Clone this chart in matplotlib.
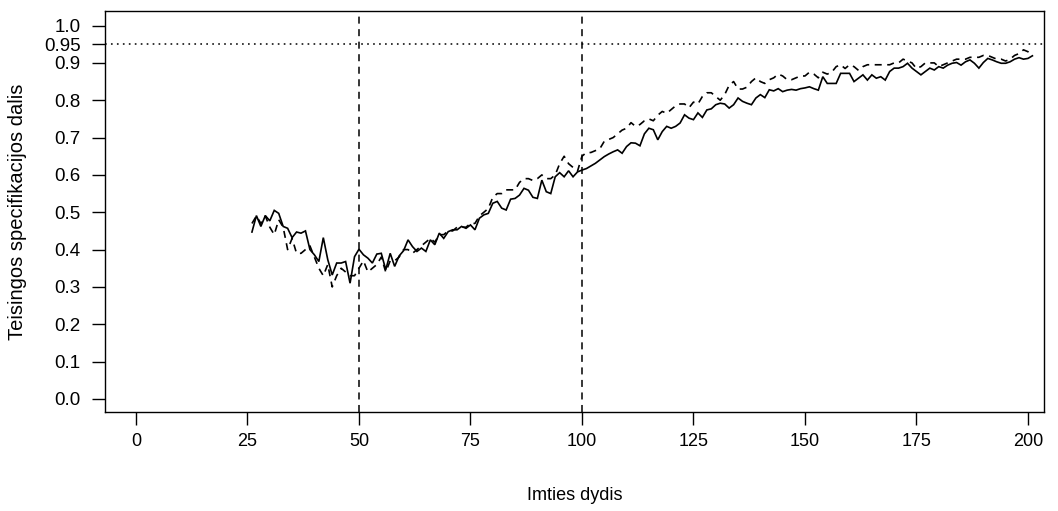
import numpy as np
import matplotlib
matplotlib.use("Agg")
import matplotlib.pyplot as plt

plt.rcParams['font.family'] = ['Liberation Sans', 'DejaVu Sans']

# Sample sizes
sample_size = list(range(26, 202))

# Share of correct specifications, method A (solid line)
share_solid = [
    0.447, 0.491, 0.462, 0.491, 0.477, 0.505, 0.497, 0.462, 0.457, 0.432,   # 26-35
    0.447, 0.444, 0.450, 0.400, 0.386, 0.368, 0.432, 0.373, 0.332, 0.364,   # 36-45
    0.364, 0.368, 0.310, 0.381, 0.401, 0.386, 0.377, 0.364, 0.388, 0.390,   # 46-55
    0.346, 0.390, 0.355, 0.383, 0.397, 0.426, 0.408, 0.395, 0.404, 0.395,   # 56-65
    0.426, 0.413, 0.444, 0.430, 0.448, 0.453, 0.453, 0.462, 0.457, 0.466,   # 66-75
    0.453, 0.484, 0.493, 0.497, 0.524, 0.529, 0.511, 0.506, 0.535, 0.537,   # 76-85
    0.546, 0.564, 0.559, 0.540, 0.537, 0.586, 0.555, 0.550, 0.595, 0.606,   # 86-95
    0.595, 0.611, 0.595, 0.608, 0.613, 0.617, 0.624, 0.631, 0.640, 0.649,   # 96-105
    0.656, 0.662, 0.667, 0.658, 0.676, 0.686, 0.685, 0.678, 0.710, 0.725,   # 106-115
    0.721, 0.694, 0.716, 0.730, 0.725, 0.730, 0.739, 0.761, 0.752, 0.748,   # 116-125
    0.766, 0.754, 0.774, 0.777, 0.788, 0.792, 0.790, 0.779, 0.788, 0.806,   # 126-135
    0.797, 0.792, 0.788, 0.806, 0.815, 0.807, 0.828, 0.825, 0.831, 0.823,   # 136-145
    0.827, 0.829, 0.827, 0.831, 0.833, 0.836, 0.831, 0.827, 0.863, 0.845,   # 146-155
    0.845, 0.845, 0.872, 0.872, 0.872, 0.850, 0.859, 0.868, 0.854, 0.868,   # 156-165
    0.859, 0.863, 0.854, 0.877, 0.886, 0.886, 0.890, 0.899, 0.886, 0.877,   # 166-175
    0.868, 0.877, 0.886, 0.881, 0.890, 0.886, 0.894, 0.899, 0.901, 0.894,   # 176-185
    0.903, 0.908, 0.899, 0.886, 0.901, 0.912, 0.908, 0.903, 0.899, 0.899,   # 186-195
    0.903, 0.910, 0.914, 0.910, 0.912, 0.919,                               # 196-201
]

# Share of correct specifications, method B (dashed line)
share_dashed = [
    0.470, 0.490, 0.470, 0.490, 0.460, 0.440, 0.480, 0.460, 0.400, 0.430,   # 26-35
    0.390, 0.390, 0.400, 0.410, 0.380, 0.350, 0.330, 0.360, 0.300, 0.330,   # 36-45
    0.350, 0.340, 0.330, 0.330, 0.350, 0.370, 0.340, 0.350, 0.360, 0.380,   # 46-55
    0.340, 0.370, 0.370, 0.380, 0.400, 0.400, 0.390, 0.400, 0.410, 0.420,   # 56-65
    0.430, 0.420, 0.440, 0.440, 0.450, 0.450, 0.460, 0.460, 0.460, 0.470,   # 66-75
    0.470, 0.490, 0.500, 0.510, 0.540, 0.550, 0.550, 0.560, 0.560, 0.560,   # 76-85
    0.580, 0.590, 0.590, 0.585, 0.590, 0.600, 0.590, 0.590, 0.600, 0.630,   # 86-95
    0.650, 0.630, 0.620, 0.610, 0.650, 0.660, 0.660, 0.665, 0.670, 0.690,   # 96-105
    0.695, 0.700, 0.710, 0.720, 0.725, 0.740, 0.730, 0.735, 0.745, 0.750,   # 106-115
    0.745, 0.760, 0.770, 0.765, 0.775, 0.785, 0.790, 0.790, 0.780, 0.795,   # 116-125
    0.790, 0.810, 0.820, 0.820, 0.810, 0.800, 0.815, 0.840, 0.850, 0.830,   # 126-135
    0.830, 0.835, 0.850, 0.860, 0.850, 0.845, 0.855, 0.860, 0.870, 0.865,   # 136-145
    0.855, 0.855, 0.860, 0.865, 0.865, 0.875, 0.870, 0.860, 0.875, 0.870,   # 146-155
    0.875, 0.890, 0.895, 0.885, 0.895, 0.890, 0.880, 0.890, 0.895, 0.895,   # 156-165
    0.895, 0.895, 0.895, 0.895, 0.900, 0.900, 0.910, 0.905, 0.900, 0.885,   # 166-175
    0.890, 0.900, 0.900, 0.900, 0.890, 0.895, 0.900, 0.905, 0.910, 0.910,   # 176-185
    0.910, 0.915, 0.915, 0.915, 0.920, 0.920, 0.915, 0.910, 0.910, 0.905,   # 186-195
    0.910, 0.920, 0.925, 0.935, 0.930, 0.920,                               # 196-201
]

x_ticks = [0, 25, 50, 75, 100, 125, 150, 175, 200]
y_ticks = [0.0, 0.1, 0.2, 0.3, 0.4, 0.5, 0.6, 0.7, 0.8, 0.9, 0.95, 1.0]
y_tick_labels = ["0.0", "0.1", "0.2", "0.3", "0.4", "0.5", "0.6", "0.7",
                 "0.8", "0.9", "0.95", "1.0"]
ref_sizes = [50, 100]
target_level = 0.95

W, H = 1058, 511
fig = plt.figure(figsize=(W / 100, H / 100), dpi=100)
left, right, top, bottom = 105, 1044, 11, 412
ax = fig.add_axes([left / W, 1 - bottom / H, (right - left) / W, (bottom - top) / H])

ax.plot(sample_size, share_solid, color='black', lw=1.2, solid_joinstyle='miter')
ax.plot(sample_size, share_dashed, color='black', lw=1.2, dashes=(4.2, 3.3))

for xv in ref_sizes:
    ax.axvline(xv, color='black', lw=1.1, dashes=(4.6, 3.6))
ax.axhline(target_level, color='black', lw=1.1, dashes=(1.1, 2.8))

ax.set_xlim(-6.95, 203.6)
ax.set_ylim(-0.035, 1.039)
ax.set_xticks(x_ticks)
ax.set_xticklabels([str(t) for t in x_ticks])
ax.set_yticks(y_ticks)
ax.set_yticklabels(y_tick_labels)

for sp in ax.spines.values():
    sp.set_linewidth(1.0)
    sp.set_color('black')
ax.tick_params(axis='both', direction='out', length=9.4, width=1.0,
               colors='black')
ax.tick_params(axis='x', pad=6, labelsize=13)
ax.tick_params(axis='y', pad=8, labelsize=13.5)

fig.text(574.5 / W, 1 - 496 / H, "Imties dydis", ha='center', va='center',
         fontsize=13)
fig.text(18 / W, 1 - 212 / H, "Teisingos specifikacijos dalis", ha='center',
         va='center', rotation=90, fontsize=14.5)

fig.savefig("out.png", dpi=100)
